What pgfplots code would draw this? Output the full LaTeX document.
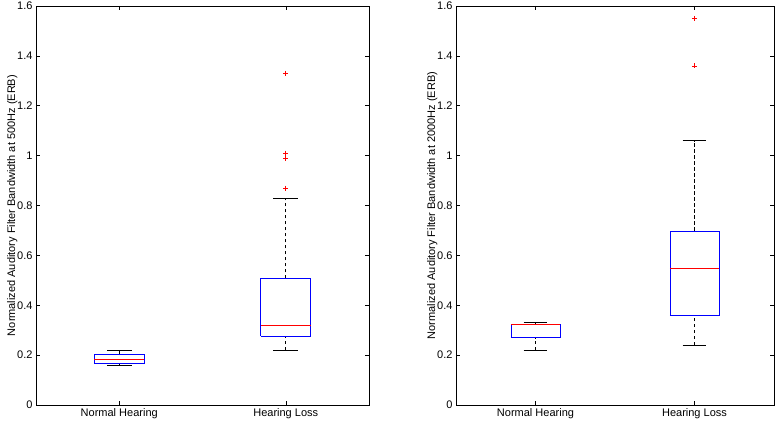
\documentclass[border=0pt]{standalone}
\usepackage{fontspec}
\setmainfont{Liberation Sans}
\usepackage{pgfplots}
\pgfplotsset{compat=1.18}
\pgfplotsset{
  mystyle/.style={
    scale only axis, height=399bp,
    xmin=0.5, xmax=2.5, ymin=0, ymax=1.6,
    ytick={0,0.2,0.4,0.6,0.8,1,1.2,1.4,1.6},
    xtick={1,2}, xticklabels={Normal Hearing, Hearing Loss},
    tick align=inside, tick pos=both, major tick length=4bp,
    axis line style={black, line width=0.6bp},
    every tick/.style={black, line width=0.5bp},
    tick label style={font=\fontsize{11bp}{13bp}\selectfont},
    label style={font=\fontsize{11bp}{13bp}\selectfont},
    ylabel style={yshift=-7bp},
    /pgf/number format/assume math mode=true,
    anchor=south west,
    clip=false,
  },
  boxl/.style={blue, line width=0.6bp, mark=none},
  medl/.style={red, line width=0.6bp, mark=none},
  whl/.style={black, line width=0.6bp, dash pattern=on 3.5bp off 2.5bp, mark=none},
  capl/.style={black, line width=0.6bp, mark=none},
  outl/.style={red, only marks, mark=+, mark size=2.5bp, line width=0.6bp},
}
\begin{document}
\begin{tikzpicture}
\useasboundingbox (0,0) rectangle (776bp,422bp);
% ---------------- left panel: 500 Hz ----------------
\begin{axis}[mystyle, at={(36bp,17bp)}, width=333bp,
  ylabel={Normalized Auditory Filter Bandwidth at 500Hz (ERB)}]
% Normal Hearing
\addplot[whl] coordinates {(1,0.203) (1,0.22)};
\addplot[whl] coordinates {(1,0.16) (1,0.168)};
\addplot[capl] coordinates {(0.925,0.22) (1.075,0.22)};
\addplot[capl] coordinates {(0.925,0.16) (1.075,0.16)};
\addplot[boxl] coordinates {(0.85,0.168) (1.15,0.168) (1.15,0.203) (0.85,0.203) (0.85,0.168)};
\addplot[medl] coordinates {(0.85,0.184) (1.15,0.184)};
% Hearing Loss
\addplot[whl] coordinates {(2,0.508) (2,0.83)};
\addplot[whl] coordinates {(2,0.22) (2,0.275)};
\addplot[capl] coordinates {(1.925,0.83) (2.075,0.83)};
\addplot[capl] coordinates {(1.925,0.22) (2.075,0.22)};
\addplot[boxl] coordinates {(1.85,0.275) (2.15,0.275) (2.15,0.508) (1.85,0.508) (1.85,0.275)};
\addplot[medl] coordinates {(1.85,0.321) (2.15,0.321)};
\addplot[outl] coordinates {(2,0.87) (2,0.99) (2,1.01) (2,1.33)};
\end{axis}
% ---------------- right panel: 2000 Hz ----------------
\begin{axis}[mystyle, at={(456bp,17bp)}, width=318bp,
  ylabel={Normalized Auditory Filter Bandwidth at 2000Hz (ERB)}]
% Normal Hearing
\addplot[whl] coordinates {(1,0.325) (1,0.33)};
\addplot[whl] coordinates {(1,0.22) (1,0.27)};
\addplot[capl] coordinates {(0.925,0.33) (1.075,0.33)};
\addplot[capl] coordinates {(0.925,0.22) (1.075,0.22)};
\addplot[boxl] coordinates {(0.845,0.27) (1.155,0.27) (1.155,0.325) (0.845,0.325) (0.845,0.27)};
\addplot[medl] coordinates {(0.845,0.323) (1.155,0.323)};
% Hearing Loss
\addplot[whl] coordinates {(2,0.698) (2,1.06)};
\addplot[whl] coordinates {(2,0.24) (2,0.36)};
\addplot[capl] coordinates {(1.925,1.06) (2.075,1.06)};
\addplot[capl] coordinates {(1.925,0.24) (2.075,0.24)};
\addplot[boxl] coordinates {(1.845,0.36) (2.155,0.36) (2.155,0.698) (1.845,0.698) (1.845,0.36)};
\addplot[medl] coordinates {(1.845,0.55) (2.155,0.55)};
\addplot[outl] coordinates {(2,1.36) (2,1.55)};
\end{axis}
\end{tikzpicture}
\end{document}
